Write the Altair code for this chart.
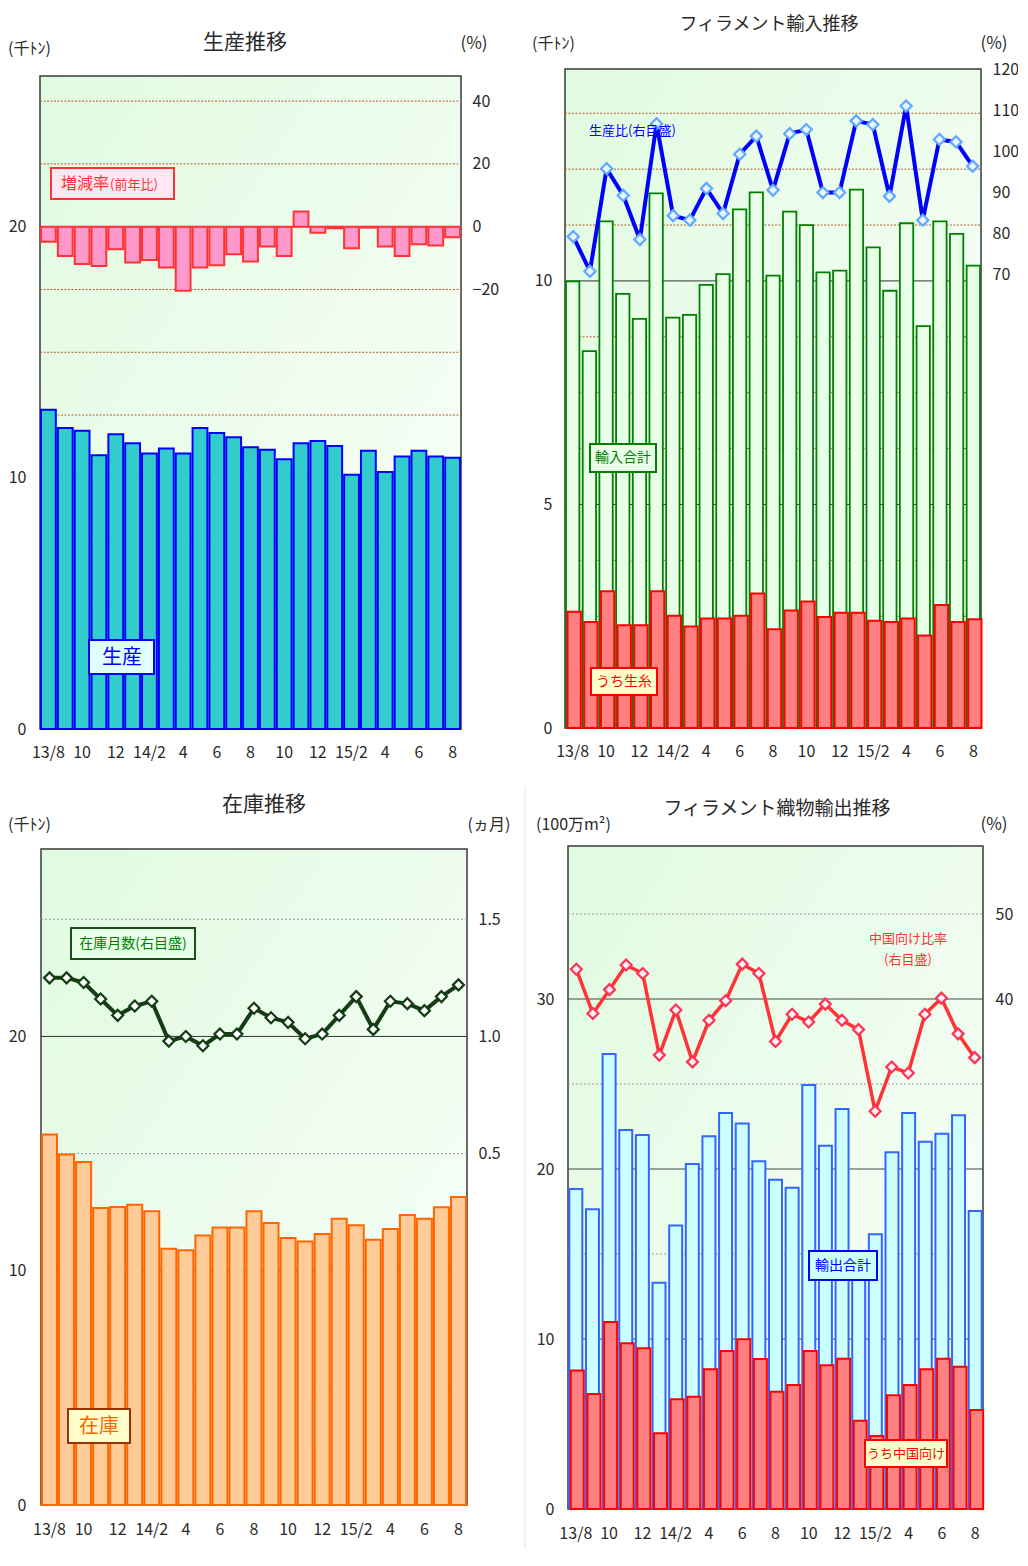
import altair as alt
import pandas as pd

FONT = "Noto Sans CJK JP"
W, H = 1010, 1540
M = 8  # page margin

# ---------------- data ----------------
months = ["13/8", "13/9", "13/10", "13/11", "13/12",
          "14/1", "14/2", "14/3", "14/4", "14/5", "14/6", "14/7", "14/8", "14/9", "14/10", "14/11", "14/12",
          "15/1", "15/2", "15/3", "15/4", "15/5", "15/6", "15/7", "15/8"]
tick_labels = ["13/8", "", "10", "", "12", "", "14/2", "", "4", "", "6", "", "8", "",
               "10", "", "12", "", "15/2", "", "4", "", "6", "", "8"]

production = [12.71, 11.98, 11.88, 10.90, 11.74, 11.38, 10.97, 11.17, 10.97, 11.98, 11.79, 11.62, 11.22,
              11.12, 10.74, 11.38, 11.47, 11.27, 10.12, 11.08, 10.23, 10.85, 11.08, 10.85, 10.80]
production_yoy = [-4.8, -9.3, -11.9, -12.5, -7.2, -11.4, -10.6, -13.0, -20.4, -13.0, -12.3, -8.8, -11.1,
                  -6.3, -9.3, 4.8, -1.9, -0.5, -6.9, -0.3, -6.3, -9.3, -5.6, -6.0, -3.4]

import_total = [9.99, 8.43, 11.33, 9.71, 9.15, 11.96, 9.18, 9.24, 9.91, 10.15, 11.60, 11.98, 10.12,
                11.55, 11.25, 10.19, 10.23, 12.04, 10.75, 9.78, 11.29, 8.99, 11.33, 11.05, 10.34]
import_raw_silk = [2.60, 2.37, 3.06, 2.30, 2.30, 3.06, 2.51, 2.27, 2.45, 2.45, 2.51, 3.01, 2.21,
                   2.63, 2.83, 2.48, 2.58, 2.58, 2.40, 2.37, 2.45, 2.07, 2.75, 2.37, 2.43]
import_vs_production = [79.3, 70.9, 95.8, 89.3, 78.6, 106.7, 84.4, 83.3, 91.0, 84.9, 99.3, 103.7, 90.6,
                        104.3, 105.3, 90.0, 90.0, 107.4, 106.5, 89.1, 111.0, 83.3, 102.9, 102.3, 96.4]

stock = [15.81, 14.96, 14.64, 12.68, 12.72, 12.82, 12.54, 10.94, 10.87, 11.50, 11.84, 11.84, 12.54,
         12.04, 11.40, 11.25, 11.57, 12.22, 11.94, 11.32, 11.78, 12.38, 12.22, 12.71, 13.15]
stock_months = [1.25, 1.25, 1.23, 1.16, 1.09, 1.13, 1.15, 0.98, 1.00, 0.96, 1.01, 1.01, 1.12,
                1.08, 1.06, 0.99, 1.01, 1.09, 1.17, 1.03, 1.15, 1.14, 1.11, 1.17, 1.22]

export_total = [18.82, 17.63, 26.76, 22.29, 22.00, 13.31, 16.67, 20.29, 21.92, 23.29, 22.67, 20.45, 19.37,
                18.90, 24.94, 21.37, 23.53, 14.30, 16.16, 20.98, 23.29, 21.61, 22.08, 23.16, 17.53]
export_china = [8.14, 6.76, 11.00, 9.75, 9.45, 4.45, 6.45, 6.61, 8.22, 9.29, 9.98, 8.82, 6.90,
                7.29, 9.29, 8.45, 8.84, 5.19, 4.29, 6.69, 7.29, 8.22, 8.84, 8.37, 5.82]
china_share = [43.5, 38.3, 41.1, 44.0, 43.0, 33.4, 38.7, 32.6, 37.5, 39.8, 44.1, 43.0, 35.0,
               38.2, 37.3, 39.4, 37.5, 36.4, 26.8, 32.0, 31.3, 38.2, 40.1, 35.9, 33.1]

# gridline / tick values
p1_major, p1_minor = [10, 20], [2.5, 5, 7.5, 12.5, 15, 17.5, 22.5, 25]
p2_major, p2_minor = [5, 10], [1.25, 2.5, 3.75, 6.25, 7.5, 8.75, 11.25, 12.5, 13.75]
p3_major, p3_minor = [10, 20], [5, 15, 25]
p4_major, p4_minor = [10, 20, 30], [5, 15, 25, 35]

IDX = list(range(len(months)))
df = pd.DataFrame({
    "i": IDX, "month": months,
    "production": production, "production_yoy": production_yoy,
    "import_total": import_total, "import_raw_silk": import_raw_silk,
    "import_vs_production": import_vs_production,
    "stock": stock, "stock_months": stock_months,
    "export_total": export_total, "export_china": export_china, "china_share": china_share,
})

# ---------------- geometry (page pixels) ----------------
P1 = dict(x0=40, x1=461, y0=76, y1=729)
P2 = dict(x0=565, x1=981, y0=69, y1=728)
P3 = dict(x0=41, x1=467, y0=849, y1=1505)
P4 = dict(x0=568, x1=983, y0=846, y1=1509)

LABEL_EXPR = "[" + ",".join("'%s'" % t for t in tick_labels) + "][datum.value]"
ONE = alt.Data(values=[{"k": 0}])
TICK_COLOR = "#2A2A2A"


def xs(p, pi, po):
    return alt.Scale(domain=IDX, range=[p["x0"] - M, p["x1"] - M], paddingInner=pi, paddingOuter=po)


def ys(p, dom):
    return alt.Scale(domain=dom, range=[p["y1"] - M, p["y0"] - M], nice=False)


def ax_common(**kw):
    base = dict(domain=False, ticks=False, grid=False, labelFont=FONT, labelFontSize=16,
                labelColor=TICK_COLOR, title="")
    base.update(kw)
    return alt.Axis(**base)


def ax_left(p, values, pad=14, **kw):
    return ax_common(orient="left", offset=-(p["x0"] - M), values=values, labelPadding=pad, **kw)


def ax_right(p, values, pad=11, **kw):
    return ax_common(orient="right", offset=(p["x1"] - M) - W, values=values, labelPadding=pad, **kw)


def ax_bottom(p, pad=15):
    return ax_common(orient="bottom", offset=(p["y1"] - M) - H, labelExpr=LABEL_EXPR,
                     labelAngle=0, labelOverlap=False, labelPadding=pad)


GRAD = alt.LinearGradient(gradient="linear", x1=0, y1=0, x2=1, y2=1,
                          stops=[alt.GradientStop(color="#E0FAE0", offset=0),
                                 alt.GradientStop(color="#FBFFFB", offset=1)])


def bg(p):
    return alt.Chart(ONE).mark_rect(fill=GRAD, stroke="#3A3A3A", strokeWidth=1.5).encode(
        x=alt.value(p["x0"] - M), x2=alt.value(p["x1"] - M),
        y=alt.value(p["y0"] - M), y2=alt.value(p["y1"] - M))


def grid(p, dom, values, color, dash=None, width=1.0):
    kw = dict(color=color, strokeWidth=width)
    if dash:
        kw["strokeDash"] = dash
    return alt.Chart(pd.DataFrame({"v": values})).mark_rule(**kw).encode(
        y=alt.Y("v:Q", scale=ys(p, dom), axis=None),
        x=alt.value(p["x0"] - M), x2=alt.value(p["x1"] - M))


def text(t, x, y, size, color="#2A2A2A", align="center"):
    return alt.Chart(ONE).mark_text(text=t, font=FONT, fontSize=size, color=color, align=align,
                                    baseline="middle").encode(x=alt.value(x - M), y=alt.value(y - M))


def box(x0, y0, x1, y1, fill, stroke, sw=2):
    return alt.Chart(ONE).mark_rect(fill=fill, stroke=stroke, strokeWidth=sw).encode(
        x=alt.value(x0 - M), x2=alt.value(x1 - M), y=alt.value(y0 - M), y2=alt.value(y1 - M))


BROWN = "#B0602F"
GRAY = "#9A9A9A"
layers = []

# ---------------- Panel 1: 生産推移 ----------------
D1L, D1R = [0, 26], [-160, 48]
X1 = xs(P1, 0.12, 0.06)
layers += [
    bg(P1),
    grid(P1, D1L, p1_minor, BROWN, [2, 1.5]),
    grid(P1, D1L, p1_major, "#333333"),
    alt.Chart(df).mark_bar(fill="#33CCCC", stroke="#0000FF", strokeWidth=2).encode(
        x=alt.X("i:O", scale=X1, axis=ax_bottom(P1)),
        y=alt.Y("production:Q", scale=ys(P1, D1L), axis=ax_left(P1, [0, 10, 20]))),
    alt.Chart(df).mark_bar(fill="#FF99CC", stroke="#FF3333", strokeWidth=2).encode(
        x=alt.X("i:O", scale=X1, axis=None),
        y=alt.Y("production_yoy:Q", scale=ys(P1, D1R), axis=ax_right(P1, [-20, 0, 20, 40]))),
]

# ---------------- Panel 2: フィラメント輸入推移 ----------------
D2L, D2R = [0, 14.74], [-40, 120]
X2 = xs(P2, 0.2, 0.06)
layers += [
    bg(P2),
    grid(P2, D2L, p2_minor, BROWN, [2, 1.5]),
    grid(P2, D2L, p2_major, "#333333"),
    alt.Chart(df).mark_bar(fill="#E8FFE8", stroke="#008000", strokeWidth=1.8).encode(
        x=alt.X("i:O", scale=X2, axis=ax_bottom(P2)),
        y=alt.Y("import_total:Q", scale=ys(P2, D2L), axis=ax_left(P2, [0, 5, 10], pad=13))),
    alt.Chart(df).mark_bar(fill="#FF8080", stroke="#FF0000", strokeWidth=2, xOffset=1.5).encode(
        x=alt.X("i:O", scale=X2, axis=None),
        y=alt.Y("import_raw_silk:Q", scale=ys(P2, D2L), axis=None)),
    alt.Chart(df).mark_line(color="#0000FF", strokeWidth=4).encode(
        x=alt.X("i:O", scale=X2, axis=None),
        y=alt.Y("import_vs_production:Q", scale=ys(P2, D2R),
                axis=ax_right(P2, [70, 80, 90, 100, 110, 120]))),
    alt.Chart(df).mark_point(shape="diamond", filled=True, fill="#EAF4FF", stroke="#5EA8FF",
                             strokeWidth=2.2, size=125, opacity=1).encode(
        x=alt.X("i:O", scale=X2, axis=None),
        y=alt.Y("import_vs_production:Q", scale=ys(P2, D2R), axis=None)),
]

# ---------------- Panel 3: 在庫推移 ----------------
D3L, D3R = [0, 28], [-1.0, 1.8]
X3 = xs(P3, 0.12, 0.06)
layers += [
    bg(P3),
    grid(P3, D3L, p3_minor, GRAY, [2, 2]),
    grid(P3, D3L, p3_major, "#333333"),
    alt.Chart(df).mark_bar(fill="#FFCC99", stroke="#FF6600", strokeWidth=2).encode(
        x=alt.X("i:O", scale=X3, axis=ax_bottom(P3, pad=16)),
        y=alt.Y("stock:Q", scale=ys(P3, D3L), axis=ax_left(P3, [0, 10, 20], pad=15))),
    alt.Chart(df).mark_line(color="#143D14", strokeWidth=4).encode(
        x=alt.X("i:O", scale=X3, axis=None),
        y=alt.Y("stock_months:Q", scale=ys(P3, D3R),
                axis=ax_right(P3, [0.5, 1.0, 1.5], format=".1f"))),
    alt.Chart(df).mark_point(shape="diamond", filled=True, fill="#FFFFFF", stroke="#143D14",
                             strokeWidth=2.2, size=120, opacity=1).encode(
        x=alt.X("i:O", scale=X3, axis=None),
        y=alt.Y("stock_months:Q", scale=ys(P3, D3R), axis=None)),
]

# ---------------- Panel 4: フィラメント織物輸出推移 ----------------
D4L, D4R = [0, 39], [-20, 58]
X4 = xs(P4, 0.22, 0.08)
layers += [
    bg(P4),
    grid(P4, D4L, p4_minor, GRAY, [2, 2]),
    grid(P4, D4L, p4_major, "#444444"),
    alt.Chart(df).mark_bar(fill="#CCFFFF", stroke="#3366FF", strokeWidth=2).encode(
        x=alt.X("i:O", scale=X4, axis=ax_bottom(P4, pad=16)),
        y=alt.Y("export_total:Q", scale=ys(P4, D4L), axis=ax_left(P4, [0, 10, 20, 30]))),
    alt.Chart(df).mark_bar(fill="#FF8080", stroke="#FF0000", strokeWidth=2, xOffset=1.5).encode(
        x=alt.X("i:O", scale=X4, axis=None),
        y=alt.Y("export_china:Q", scale=ys(P4, D4L), axis=None)),
    alt.Chart(df).mark_line(color="#FF3333", strokeWidth=3.5).encode(
        x=alt.X("i:O", scale=X4, axis=None),
        y=alt.Y("china_share:Q", scale=ys(P4, D4R), axis=ax_right(P4, [40, 50], pad=12))),
    alt.Chart(df).mark_point(shape="diamond", filled=True, fill="#FFF0F6", stroke="#FF3355",
                             strokeWidth=2.2, size=120, opacity=1).encode(
        x=alt.X("i:O", scale=X4, axis=None),
        y=alt.Y("china_share:Q", scale=ys(P4, D4R), axis=None)),
]

# ---------------- titles, units, legend boxes ----------------
layers += [
    # panel 1
    text("生産推移", 245, 43, 21),
    text("(千ﾄﾝ)", 8, 49, 16, align="left"),
    text("(%)", 474, 44, 17),
    box(51, 168, 174, 199, "#FFE8F4", "#FF3333"),
    text("増減率", 61, 184, 16, "#FF3333", "left"),
    text("(前年比)", 110, 185, 13, "#FF3333", "left"),
    box(89, 640, 154, 674, "#E0FFFF", "#0000FF"),
    text("生産", 122, 658, 20, "#0000FF"),
    # panel 2
    text("フィラメント輸入推移", 769, 25, 18),
    text("(千ﾄﾝ)", 532, 44, 16, align="left"),
    text("(%)", 994, 44, 17),
    text("生産比(右目盛)", 589, 131, 13, "#0000FF", "left"),
    box(590, 444, 656, 472, "#E8FFE8", "#008000"),
    text("輸入合計", 623, 458, 14, "#008000"),
    box(591, 668, 657, 695, "#FFFFCC", "#FF0000"),
    text("うち生糸", 624, 682, 14, "#FF0000"),
    # panel 3
    text("在庫推移", 264, 805, 21),
    text("(千ﾄﾝ)", 8, 825, 16, align="left"),
    text("(ヵ月)", 489, 825, 16),
    box(71, 928, 195, 959, "#E8FFE8", "#1A4D1A"),
    text("在庫月数(右目盛)", 133, 944, 14, "#008000"),
    box(68, 1409, 130, 1443, "#FFFFCC", "#993300"),
    text("在庫", 99, 1427, 20, "#FF6600"),
    # panel 4
    text("フィラメント織物輸出推移", 777, 809, 19),
    text("(100万m²)", 536, 825, 16, align="left"),
    text("(%)", 994, 825, 17),
    text("中国向け比率", 908, 939, 13, "#FF3333"),
    text("(右目盛)", 908, 960, 13, "#FF3333"),
    box(809, 1251, 877, 1280, "#CCFFFF", "#0000FF"),
    text("輸出合計", 843, 1266, 14, "#0000FF"),
    box(865, 1440, 947, 1467, "#FFFFCC", "#FF0000"),
    text("うち中国向け", 906, 1454, 13, "#FF0000"),
    # faint separator
    alt.Chart(ONE).mark_rule(color="#E4E4E4", strokeWidth=1).encode(
        x=alt.value(525 - M), y=alt.value(786 - M), y2=alt.value(H)),
]

chart = alt.layer(*layers).resolve_scale(
    x="independent", y="independent"
).resolve_axis(
    x="independent", y="independent"
).properties(
    width=W, height=H, autosize=alt.AutoSizeParams(type="none"), padding=0
).configure_view(strokeWidth=0)

chart.save("out.html", embed_options={"renderer": "svg", "actions": False})
